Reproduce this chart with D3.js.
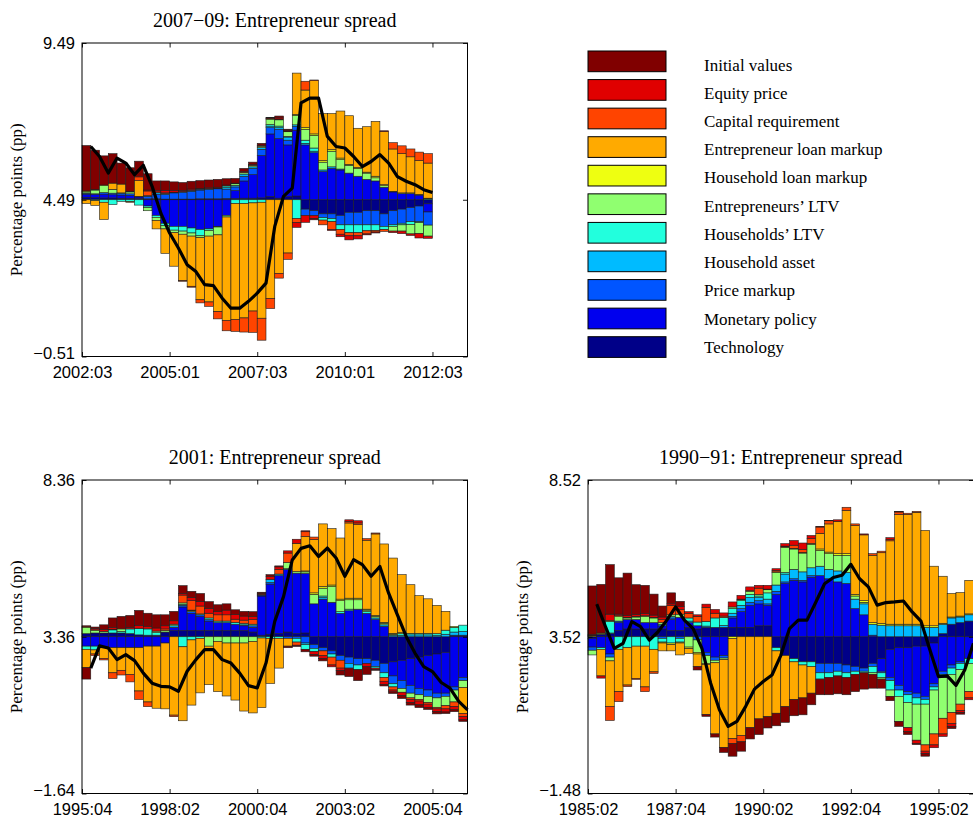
<!DOCTYPE html>
<html>
<head>
<meta charset="utf-8">
<script src="https://cdn.jsdelivr.net/npm/d3@7"></script>
<style>
  body { margin: 0; background: #fff; }
  svg { display: block; }
</style>
</head>
<body>
<svg id="chart" width="973" height="822"></svg>
<script>
// Shock names (legend order) and their colours
const seriesNames = ["Initial values", "Equity price", "Capital requirement", "Entrepreneur loan markup",
  "Household loan markup", "Entrepreneurs’ LTV", "Households’ LTV", "Household asset",
  "Price markup", "Monetary policy", "Technology"];
const seriesColors = ["#800000", "#e00000", "#ff4400", "#ffaa00", "#eeff11", "#90ff70",
  "#22ffdd", "#00bbff", "#0055ff", "#0000ee", "#000088"];

// ---- 2007–09 episode: contributions (pp, deviation from steady state), 2002:04–2012:03
const aInit = [1.45,1.25,.93,.94,.67,.75,.5,.52,.3,.3, .28,.25,.25,.25,.25,.25,.2,.15,.1,.07, .06,.02,.06,.03,0,0,-.04,0,0,0, 0,0,0,0,0,0,0,0,0,0];
const aEquity = [0,0,0,0,0,0,0,.03,.05,.08, .05,.04,.04,.02,.03,.03,.03,.02,.03,.03, .03,.02,.04,.03,-.15,-.22,-.1,0,-.03,-.08, -.13,-.1,-.03,-.03,.02,-.05,-.08,-.05,-.14,-.07];
const aCapReq = [0,0,0,0,0,0,.12,.15,.02,.02, 0,-.02,-.03,-.1,-.14,-.23,-.33,-.38,-.45,-.68, -.7,-.32,-.15,-.2,-.13,.28,.02,-.15,-.25,-.15, -.1,-.1,-.1,-.05,-.06,.2,.25,.25,.27,.3];
const aEntLoan = [-.12,-.15,-.55,.2,.28,-.02,.5,0,-.27,-.78, -1.07,-1.48,-1.6,-1.98,-2.1,-2.45,-3.3,-3.7,-3.65,-3.45, -3.7,-3.15,-2.35,-1.7,1.32,1.2,1.7,1.5,1.15,1.5, 1.55,1.25,1.45,1.75,1.7,1.35,1.25,1.15,1.08,1.12];
const aHhLoan = [.03,.02,.02,0,0,.02,0,0,0,0, 0,0,0,0,0,0,0,0,0,0, 0,.02,.02,.02,.03,.05,.05,.05,.05,.05, .03,.03,.03,.05,.03,.02,.02,.02,.02,.02];
const aEntLtv = [.04,.12,.22,.12,0,.06,0,-.1,-.1,-.1, -.08,-.1,-.1,-.06,-.18,-.25,-.05,.05,.05,.05, .05,.17,.2,.15,.3,.35,.4,.25,.5,.3, .25,.25,.2,.1,.05,-.15,-.2,-.3,-.35,-.35];
const aHhLtv = [0,-.03,-.08,-.15,-.05,-.06,-.17,-.05,-.06,-.08, -.12,-.15,-.16,-.2,-.05,-.02,.05,-.12,-.12,-.1, -.08,.05,.05,.02,-.6,.1,.1,-.08,-.1,-.15, -.25,-.25,-.19,-.18,-.1,-.05,-.05,-.09,-.03,.03];
const aHhAsset = [0,0,0,0,.02,0,0,.02,.05,.03, .02,.02,.03,.03,.02,.02,.05,.05,.07,.05, .05,.05,.05,.1,.05,.05,.05,.05,.05,.03, 0,0,0,0,0,0,0,0,0,0];
const aPrice = [.03,.02,.05,.05,.05,.05,.02,.08,.15,.15, .2,.22,.25,.28,.3,.32,.3,.12,.15,.2, .2,.2,.3,.15,.12,-.2,-.15,-.12,-.15,-.3, -.4,-.4,-.45,-.45,-.4,-.45,-.45,-.45,-.5,-.42];
const aMonetary = [.1,.1,.12,.1,.1,.1,.05,-.2,-.5,-.75, -.85,-.85,-.9,-.95,-.93,-.85,-.5,.25,.55,.75, 1.35,2.0,1.9,1.65,2.1,1.75,1.5,.9,1.0,.95, .85,.75,.65,.6,.4,.25,.2,.2,.15,-.26];
const aTech = [.08,.07,.06,.06,.05,.04,.04,.03,.03,.02, .02,.02,.02,.03,.03,.03,.04,.04,.05,.05, .06,.1,.05,.1,.12,-.3,-.35,-.45,-.45,-.5, -.4,-.4,-.35,-.35,-.45,-.35,-.3,-.25,-.2,-.13];
const aSpread = [6.19,5.87,5.34,5.82,5.66,5.29,5.59,4.92,4.06,3.43, 2.95,2.42,2.20,1.78,1.75,1.35,1.03,1.03,1.25,1.51, 1.83,3.64,4.60,4.86,7.58,7.73,7.73,6.51,6.19,6.14, 5.87,5.55,5.71,5.93,5.66,5.23,5.08,4.97,4.81,4.72];

// ---- 2001 episode, 1996:01–2006:04
const bInit = [-.37,.04,.15,.3,.4,.38,.48,.42,.42,.35, .3,.25,.2,.25,.22,.22,.2,.15,.15,.15, .03,.05,.03,-.05,-.04,-.08,-.05,-.07,0,-.15, -.27,-.35,-.25,-.02,-.05,-.05,-.1,-.08,-.09,-.07, -.08,-.05,-.06,-.05];
const bEquity = [.03,.05,.06,.06,0,.05,.1,.08,.1,.1, .11,.05,.1,.15,.15,.1,.15,.15,.13,.1, .03,.1,.08,.07,.13,.03,-.1,-.1,-.06,-.07, .05,.07,-.1,-.05,-.1,-.06,-.1,-.1,-.12,-.1, -.08,-.1,-.1,-.1];
const bCapReq = [0,-.05,-.05,-.18,-.15,-.24,-.27,-.15,0,.05, -.05,.25,.3,.25,.15,.2,.2,.1,.1,.15, .03,0,.15,.3,-.1,.15,.08,-.15,-.25,-.25, .05,.05,.05,.03,-.12,-.1,0,-.05,-.05,-.05, -.05,-.1,-.15,-.1];
const bEntLoan = [-.58,-.13,-.34,-.8,-.72,-.85,-1.38,-1.78,-1.98,-2.1, -2.5,-2.36,-2.08,-1.74,-1.23,-1.6,-1.69,-1.82,-2.17,-2.28, -2.22,-1.44,-.95,-.25,.9,1.1,1.7,2.0,1.8,1.95, 2.4,2.35,2.2,2.6,2.5,2.4,1.85,1.55,1.2,1.1, .9,.6,0,-.83];
const bHhLoan = [.02,.02,0,.02,0,0,0,0,0,0, 0,0,.02,0,0,0,0,0,0,0, 0,0,0,0,0,.03,.05,.05,.05,.05, .05,.05,.03,.03,.03,.03,.03,0,0,0, 0,0,.03,0];
const bEntLtv = [.2,.08,.05,0,.08,0,0,0,.05,.05, .05,.05,.03,.03,-.3,-.15,-.2,-.2,-.2,-.15, 0,0,0,.2,.05,.05,.3,.25,.5,.35, .3,.3,.05,.05,.05,.03,-.12,-.15,-.15,-.2, -.3,-.3,-.38,-.22];
const bHhLtv = [-.1,-.12,0,.1,.05,.15,.2,.2,.08,0, 0,-.32,-.1,-.05,.05,.05,.05,.06,.05,.05, -.04,-.05,-.05,.02,-.12,-.15,-.1,.05,-.1,.05, .05,-.15,.05,-.05,-.15,-.1,.05,.05,.05,.05, .05,.13,.15,.2];
const bHhAsset = [0,0,0,0,0,0,0,0,0,0, .05,.03,0,0,0,0,0,0,0,0, 0,.1,.05,0,0,-.05,0,.05,0,0, -.15,0,0,.05,.05,.05,.05,.06,.06,.06, .05,.08,.1,.12];
const bPrice = [0,0,0,0,0,0,0,0,0,0, 0,.05,.05,.05,.05,0,0,0,.03,.05, .03,.05,0,-.05,-.05,-.2,-.12,-.1,-.1,-.15, -.2,-.2,-.15,-.2,-.3,-.25,-.25,-.25,-.2,-.2, -.15,-.1,-.1,-.1];
const bMonetary = [-.3,-.3,-.35,-.35,-.35,-.35,-.35,-.3,-.3,-.2, .1,.75,.55,.45,.3,.25,.25,.2,.15,.15, 1.25,1.6,1.85,2.0,1.93,1.9,1.05,1.2,1.1,.75, .83,.88,.75,.55,.33,-.45,-.65,-.85,-1.0,-1.1, -1.25,-1.3,-1.6,-1.3];
const bTech = [.1,.12,.12,.12,.12,.1,.06,.05,.05,.15, .2,.2,.2,.2,.2,.2,.2,.2,.2,.15, .05,.08,.1,.15,.1,.12,-.25,-.35,-.45,-.6, -.65,-.7,-.7,-.75,-.85,-.8,-.75,-.7,-.65,-.6, -.55,-.5,.05,.05];
const bSpread = [2.36,3.07,3.00,2.63,2.79,2.60,2.20,1.88,1.78,1.76, 1.62,2.26,2.63,2.95,2.95,2.63,2.52,2.20,1.80,1.73, 2.52,3.85,4.64,5.81,6.18,6.26,5.92,6.19,5.87,5.29, 5.82,5.66,5.29,5.60,4.75,4.06,3.37,2.84,2.41,2.25, 1.90,1.72,1.30,1.03];

// ---- 1990–91 episode, 1985:03–1996:02
const cInit = [1.54,1.55,1.58,1.16,1.35,.95,.9,.67,.35,.35, .16,0,-.11,-.06,-.1,-.16,-.4,-.3,-.36,-.5, -.36,-.4,-.5,-.52,-.54,-.37,-.5,-.55,-.57,-.55, -.55,-.52,-.44,-.29,-.14,-.16,-.1,-.04,-.08,0, 0,-.06,-.05,0];
const cEquity = [.03,-.07,.2,.05,.06,.06,.07,.07,.08,.05, .1,.05,.05,.1,.12,.1,.16,.12,.12,.09, .12,.05,.08,.15,.2,.1,.02,.01,.05,0, 0,.03,0,0,.05,.02,-.12,-.1,-.08,-.09, -.08,-.1,-.07,-.06];
const cCapReq = [.02,0,-.45,-.32,-.05,-.03,-.15,-.05,.1,.3, .15,.15,.18,.45,.15,.05,-.16,-.2,0,.2, 0,.05,.02,.1,.1,.15,.2,.1,0,.1, .05,0,.05,.05,.05,.08,.04,.03,-.2,-.35, -.5,-.35,-.2,-.2];
const cEntLoan = [0,-.85,-1.45,-1.35,-1.19,-1.03,-1.3,-.72,-.25,-.2, -.38,-.15,-.4,-1.6,-2.27,-2.8,-3.2,-3.15,-2.9,-2.62, -2.55,-1.99,-1.63,-1.2,-1.05,-.85,.5,.9,1.03,1.38, 2.2,2.1,2.15,2.26,2.66,3.5,3.5,3.57,3.04,1.9, 1.5,.75,.75,1.07];
const cHhLoan = [.03,.02,.03,.03,.02,.02,.02,.02,-.03,-.05, -.03,-.05,-.05,-.03,0,0,-.05,.02,.02,0, .02,.02,.02,.02,.02,.03,.05,.05,.05,.05, .05,.05,.05,.05,.05,.05,.05,.05,.05,.05, .03,.03,.03,.03];
const cEntLtv = [-.15,.02,-.12,.14,.05,.08,.2,.15,.05,.05, .1,-.33,-.4,-.25,-.08,-.05,.05,.03,.1,.05, .1,.4,.8,.65,.6,.75,.5,.5,.5,.55, .1,.05,-.05,-.05,-.2,-.8,-.8,-1.15,-1.3,-1.4, -1.3,-1.22,-1.1,-.9];
const cHhLtv = [0,-.05,.37,-.4,-.35,-.3,-.3,-.4,-.12,-.2, -.12,.1,.12,.15,.3,.25,.15,.15,.1,.05, .2,-.1,.05,-.1,-.1,-.15,-.2,-.15,-.15,-.15, -.1,-.05,-.2,-.15,-.3,-.2,-.25,-.2,-.15,-.1, -.1,-.2,-.2,-.15];
const cHhAsset = [0,0,.02,0,0,0,0,0,.05,.05, 0,.05,0,.04,0,.06,.1,.1,.15,.1, .15,.2,.25,.3,.27,.25,.3,.3,.35,.35, .3,.35,.35,.37,.35,.35,.35,.35,.3,.3, .3,.2,.18,.2];
const cPrice = [-.1,0,-.1,.05,0,0,0,0,-.05,.05, -.05,0,-.1,-.1,-.1,-.08,.05,.1,.1,.1, .05,.1,.05,.05,.05,.05,-.3,-.3,-.25,-.25, -.15,-.1,-.1,-.05,-.1,-.15,-.1,-.15,-.1,-.1, -.1,-.1,-.05,0];
const cMonetary = [-.28,-.35,-.55,.25,.3,.3,.2,.2,.1,.35, .42,.15,.1,-.5,-.65,-.6,.3,.5,.7,.7, .65,1.35,1.7,1.8,1.75,1.9,1.95,1.85,1.75,1.7, .9,.7,.05,-.4,-.9,-1.2,-1.4,-1.5,-1.6,-1.3, -1.1,-.9,-.8,-.7];
const cTech = [-.05,.08,.1,.2,.25,.25,.25,.25,.25,.2, .2,.3,.25,.3,.3,.3,.3,.3,.3,.35, .35,-.35,-.6,-.7,-.8,-.8,-.85,-.85,-.85,-.9, -.95,-1.0,-.85,-.7,-.4,-.35,-.35,-.3,-.3,-.2, .1,.4,.45,.5];
const cSpread = [4.56,3.84,3.15,3.31,4.00,3.84,3.41,3.68,4.05,4.47, 4.05,3.78,3.15,2.04,1.19,0.66,0.82,1.30,1.85,2.09, 2.30,2.92,3.78,4.05,4.05,4.62,5.21,5.41,5.48,5.83, 5.37,5.11,4.53,4.61,4.63,4.66,4.31,4.02,3.12,2.25, 2.27,1.97,2.46,3.31];

// Axis ranges: [bottom, steady state, top]
const aYTicks = [-0.51, 4.49, 9.49];
const bYTicks = [-1.64, 3.36, 8.36];
const cYTicks = [-1.48, 3.52, 8.52];
const xTickPos = [0, 10, 20, 30, 40];

// quarterly labels "YYYY:QQ" counting from the left edge of the axis
function quarterSeq(start, n) {
  const [yr, q] = start.split(":").map(Number);
  return d3.range(n).map(i => {
    const k = yr * 4 + (q - 1) + i;
    return Math.floor(k / 4) + ":" + String(k % 4 + 1).padStart(2, "0");
  });
}

const panels = [
  { title: "2007−09: Entrepreneur spread", left: 82, top: 43, start: "2002:03", yTicks: aYTicks,
    contribs: [aInit, aEquity, aCapReq, aEntLoan, aHhLoan, aEntLtv, aHhLtv, aHhAsset, aPrice, aMonetary, aTech], spread: aSpread },
  { title: "2001: Entrepreneur spread", left: 82, top: 480, start: "1995:04", yTicks: bYTicks,
    contribs: [bInit, bEquity, bCapReq, bEntLoan, bHhLoan, bEntLtv, bHhLtv, bHhAsset, bPrice, bMonetary, bTech], spread: bSpread },
  { title: "1990−91: Entrepreneur spread", left: 588, top: 480, start: "1985:02", yTicks: cYTicks,
    contribs: [cInit, cEquity, cCapReq, cEntLoan, cHhLoan, cEntLtv, cHhLtv, cHhAsset, cPrice, cMonetary, cTech], spread: cSpread }
];

const svg = d3.select("#chart");
const W = 385.5, H = 313.5;
const serif = "'Liberation Serif', 'Times New Roman', serif";
const sans = "'Liberation Sans', Arial, Helvetica, sans-serif";
const fmtY = v => (v < 0 ? "−" : "") + Math.abs(v).toFixed(2);

panels.forEach(p => {
  const g = svg.append("g").attr("transform", `translate(${p.left},${p.top})`);
  const x = d3.scaleLinear().domain([0, 44]).range([0, W]);
  const y = d3.scaleLinear().domain([p.yTicks[0], p.yTicks[2]]).range([H, 0]);
  const base = p.yTicks[1];
  const labels = quarterSeq(p.start, 45);
  const n = p.spread.length;

  // stacked contributions: technology next to the steady state, initial values outermost;
  // positive values pile upward, negative values downward
  const order = d3.range(seriesNames.length).reverse();
  const segs = [];
  for (let j = 0; j < n; j++) {
    let up = 0, dn = 0;
    order.forEach(s => {
      const v = p.contribs[s][j];
      if (!v) return;
      let lo, hi;
      if (v > 0) { lo = up; hi = up + v; up = hi; }
      else { hi = dn; lo = dn + v; dn = lo; }
      segs.push({ j, s, lo, hi });
    });
  }
  g.append("g").selectAll("rect").data(segs).join("rect")
    .attr("x", d => x(d.j))
    .attr("width", d => x(d.j + 1) - x(d.j))
    .attr("y", d => y(base + d.hi))
    .attr("height", d => y(base + d.lo) - y(base + d.hi))
    .attr("fill", d => seriesColors[d.s])
    .attr("stroke", "#1e1e1e")
    .attr("stroke-width", 0.6);

  // actual spread
  const line = d3.line().x((d, i) => x(i + 1)).y(d => y(d));
  g.append("path").datum(p.spread)
    .attr("d", line)
    .attr("fill", "none")
    .attr("stroke", "#000")
    .attr("stroke-width", 3.2)
    .attr("stroke-linejoin", "round");

  // axes with inward ticks on all four sides
  const styleAxis = sel => {
    sel.select(".domain").remove();
    sel.selectAll(".tick line").attr("stroke", "#000").attr("stroke-width", 0.9);
    sel.selectAll("text").attr("fill", "#000");
    sel.attr("font-family", sans).attr("font-size", 16.5);
  };
  g.append("g").attr("transform", `translate(0,${H})`)
    .call(d3.axisBottom(x).tickValues(xTickPos).tickSize(-4.5).tickSizeOuter(0).tickPadding(9.5)
      .tickFormat(t => labels[t]))
    .call(styleAxis);
  g.append("g")
    .call(d3.axisTop(x).tickValues(xTickPos).tickSize(-4.5).tickSizeOuter(0).tickFormat(""))
    .call(styleAxis);
  const yAxisG = g.append("g")
    .call(d3.axisLeft(y).tickValues(p.yTicks).tickSize(-4.5).tickSizeOuter(0).tickPadding(7)
      .tickFormat(fmtY))
    .call(styleAxis);
  // lift the lowest label a little so it clears the first date label
  yAxisG.selectAll(".tick text").filter(d => d === p.yTicks[0]).attr("y", -3);
  g.append("g").attr("transform", `translate(${W},0)`)
    .call(d3.axisRight(y).tickValues(p.yTicks).tickSize(-4.5).tickSizeOuter(0).tickFormat(""))
    .call(styleAxis);

  g.append("rect").attr("x", 0).attr("y", 0).attr("width", W).attr("height", H)
    .attr("fill", "none").attr("stroke", "#000").attr("stroke-width", 1);

  g.append("text").attr("x", W / 2).attr("y", -16.5)
    .attr("text-anchor", "middle").attr("font-family", serif).attr("font-size", 20)
    .text(p.title);

  g.append("text")
    .attr("transform", `translate(-60,${H / 2}) rotate(-90)`)
    .attr("text-anchor", "middle").attr("font-family", serif).attr("font-size", 17)
    .text("Percentage points (pp)");
});

// legend
const legend = svg.append("g");
legend.selectAll("rect").data(seriesNames).join("rect")
  .attr("x", 588).attr("y", (d, i) => 51 + i * 28.57)
  .attr("width", 78).attr("height", 20.7)
  .attr("fill", (d, i) => seriesColors[i])
  .attr("stroke", "#000").attr("stroke-width", 1);
legend.selectAll("text").data(seriesNames).join("text")
  .attr("x", 704).attr("y", (d, i) => 70.5 + i * 28.24)
  .attr("font-family", serif).attr("font-size", 17)
  .text(d => d);
</script>
</body>
</html>
